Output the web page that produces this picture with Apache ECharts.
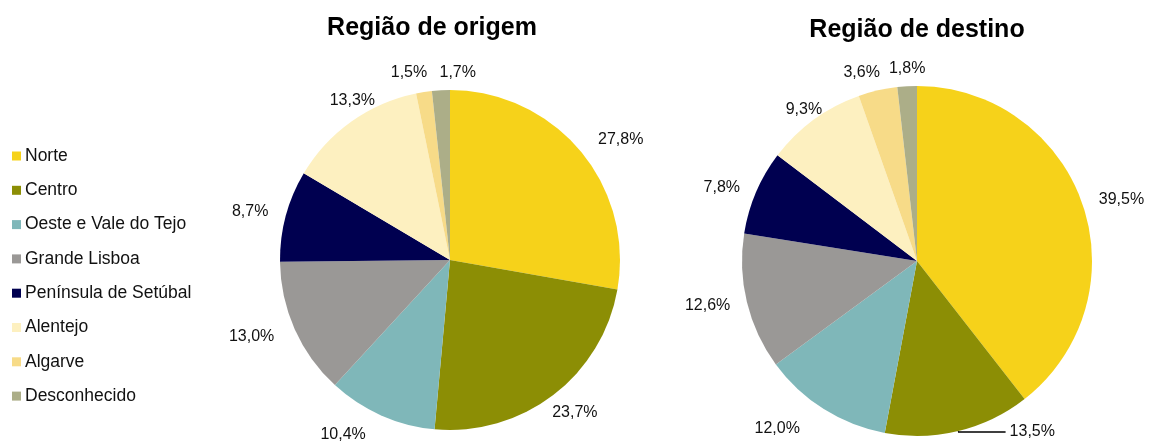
<!DOCTYPE html>
<html>
<head>
<meta charset="utf-8">
<script src="https://cdn.jsdelivr.net/npm/echarts@6/dist/echarts.min.js"></script>
<style>
  html, body { margin: 0; padding: 0; background: #fff; }
  #chart { width: 1149px; height: 441px; }
</style>
</head>
<body>
<div id="chart"></div>
<script>
const regions = ['Norte', 'Centro', 'Oeste e Vale do Tejo', 'Grande Lisboa', 'Península de Setúbal', 'Alentejo', 'Algarve', 'Desconhecido'];
const origemValues = [27.8, 23.7, 10.4, 13.0, 8.7, 13.3, 1.5, 1.7];
const destinoValues = [39.5, 13.5, 12.0, 12.6, 7.8, 9.3, 3.6, 1.8];
const titles = ['Região de origem', 'Região de destino'];

const colors = ['#F6D21A', '#8C8E05', '#7FB7B9', '#9A9896', '#000050', '#FDF0C0', '#F7DB88', '#ACAE88'];
const font = "'Liberation Sans', Arial, sans-serif";

// small label nudges so the labels sit roughly where Excel put them
const origemNudge = [[0, 0], [-16, 3], [-4, 3], [0, 0], [4, 0], [38, -6], [10, -2], [40, 0]];
const destinoNudge = [[0, 0], [0, 0], [-13, 8], [0, 0], [0, 0], [20, 0], [9, -5], [23, -5]];

const fmt = p => p.value.toFixed(1).replace('.', ',') + '%';

const buildData = values =>
  values.map((v, i) => ({ name: regions[i], value: v }));

document.addEventListener('DOMContentLoaded', () => {
  const chart = echarts.init(document.getElementById('chart'));

  const destinoData = buildData(destinoValues);
  // Centro label in the right pie has a leader line
  destinoData[1].labelLine = { show: true, length: 1, length2: 47, lineStyle: { color: '#000', width: 1.3 } };

  const pieBase = {
    type: 'pie',
    startAngle: 90,
    clockwise: true,
    avoidLabelOverlap: false,
    animation: false,
    label: {
      show: true,
      position: 'outside',
      formatter: fmt,
      color: '#111',
      fontSize: 16,
      fontFamily: font,
      distanceToLabelLine: 4
    },
    emphasis: { disabled: true }
  };

  const titleStyle = { fontSize: 25, fontWeight: 'bold', color: '#000', fontFamily: font };

  const option = {
    color: colors,
    title: [
      { text: titles[0], left: 432, top: 16, textAlign: 'center', padding: 0, textStyle: titleStyle },
      { text: titles[1], left: 917, top: 18, textAlign: 'center', padding: 0, textStyle: titleStyle }
    ],
    legend: {
      orient: 'vertical',
      left: 12,
      top: 147,
      padding: 0,
      icon: 'rect',
      itemWidth: 9,
      itemHeight: 9,
      itemGap: 16.3,
      selectedMode: false,
      data: regions,
      textStyle: { fontSize: 17.5, lineHeight: 17, color: '#111', fontFamily: font, padding: [0, 0, 0, -1] }
    },
    series: [
      Object.assign({}, pieBase, {
        name: titles[0],
        center: [450, 260],
        radius: 170,
        labelLine: { show: false, length: 18, length2: 0 },
        labelLayout: p => ({ dx: origemNudge[p.dataIndex][0], dy: origemNudge[p.dataIndex][1] }),
        data: buildData(origemValues)
      }),
      Object.assign({}, pieBase, {
        name: titles[1],
        center: [917, 261],
        radius: 175,
        labelLine: { show: false, length: 13, length2: 0 },
        labelLayout: p => ({ dx: destinoNudge[p.dataIndex][0], dy: destinoNudge[p.dataIndex][1] }),
        data: destinoData
      })
    ]
  };

  chart.setOption(option);
});
</script>
</body>
</html>
